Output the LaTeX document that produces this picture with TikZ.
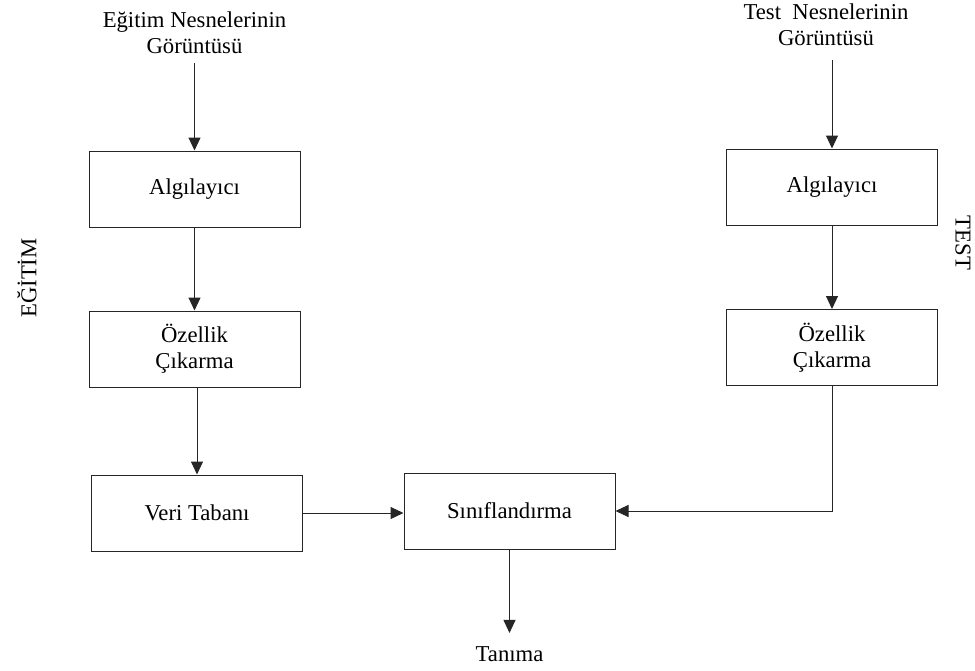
\documentclass[tikz,border=0pt]{standalone}
\usepackage{fontspec}
\setmainfont{Liberation Serif}
\usetikzlibrary{arrows.meta}
\begin{document}
\begin{tikzpicture}[x=1pt,y=-1pt,
  every node/.style={font=\fontsize{22.7}{26}\selectfont},
  stage/.style={draw=black!85, line width=1pt, minimum width=211pt, minimum height=76pt,
    align=center, inner sep=0pt},
  label/.style={align=center, inner sep=0pt},
  arr/.style={draw=black!85, line width=1pt, -{Triangle[length=13pt,width=12pt]}}]
\useasboundingbox (0,0) rectangle (975,670);

% training branch
\node[label, anchor=north] (in1) at (194.5,12) {Eğitim Nesnelerinin\\Görüntüsü};
\node[stage] (alg1) at (194.5,189) {Algılayıcı};
\node[stage] (oz1) at (194.5,349) {Özellik\\Çıkarma};
\node[stage] (veri) at (197,513) {Veri Tabanı};

% test branch
\node[label, anchor=north] (in2) at (826,4) {Test\ \ Nesnelerinin\\Görüntüsü};
\node[stage] (alg2) at (832,187) {Algılayıcı};
\node[stage] (oz2) at (832,347.5) {Özellik\\Çıkarma};

% classifier and result
\node[stage] (sinif) at (509.5,511) {Sınıflandırma};
\node[label, anchor=base] (tanima) at (509.5,661) {Tanıma};

% side captions
\node[label, rotate=90] (egitim) at (27,278) {EĞİTİM};
\node[label, rotate=-90] (test) at (963,243) {TEST};

% connectors
\draw[arr, shorten <=9pt] (in1.south -| alg1.north) -- (alg1.north);
\draw[arr, shorten <=14pt] (in2.south -| alg2.north) -- (alg2.north);
\draw[arr] (alg1.south) -- (oz1.north);
\draw[arr] (veri.north |- oz1.south) -- (veri.north);
\draw[arr] (veri.east) -- (veri.east -| sinif.west);

\draw[arr] (alg2.south) -- (oz2.north);
\draw[arr] (oz2.south) |- (sinif.east);

\draw[arr, shorten >=13pt] (sinif.south) -- (sinif.south |- tanima.north);
\end{tikzpicture}
\end{document}
